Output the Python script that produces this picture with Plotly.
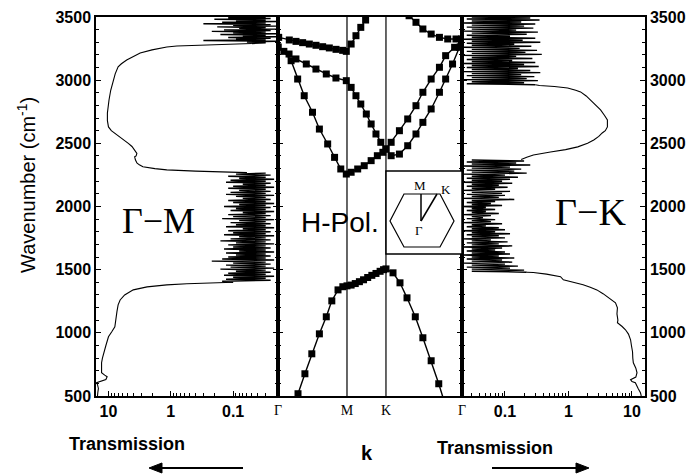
import plotly.graph_objects as go

# ---------------- data ----------------
# Gamma-M transmission (left panel)
gm_top_noise_wn = list(range(3500, 3286, -6))
gm_top_noise_t = [0.03, 0.12, 0.025, 0.2, 0.03, 0.09, 0.02, 0.15, 0.03, 0.3, 0.025, 0.1,
                  0.02, 0.18, 0.03, 0.08, 0.02, 0.14, 0.025, 0.22, 0.03, 0.1, 0.02, 0.16,
                  0.03, 0.07, 0.02, 0.12, 0.025, 0.09, 0.03, 0.3, 0.02, 0.06, 0.03, 0.05]
gm_upper_wn = [3290, 3280, 3270, 3263, 3240, 3215, 3190, 3160, 3130, 3105, 3050, 3000, 2920,
               2843, 2780, 2740, 2680, 2630, 2600, 2580, 2550, 2527, 2500, 2475, 2445, 2420,
               2400, 2393, 2370, 2345, 2330, 2315, 2300, 2290, 2280, 2275, 2268]
gm_upper_t = [0.05, 0.3, 0.8, 1.16, 2.0, 3.1, 4.0, 5.1, 6.2, 7.0, 7.8, 8.4, 9.2,
              9.8, 10.2, 10.4, 10.4, 10.0, 9.0, 7.9, 6.5, 5.5, 4.8, 4.2, 3.8, 3.5,
              3.6, 3.8, 3.7, 3.5, 3.2, 2.8, 1.8, 1.16, 0.4, 0.18, 0.06]
gm_mid_noise_wn = list(range(2264, 1399, -8))
gm_mid_noise_t = [0.03, 0.09, 0.025, 0.12, 0.03, 0.08, 0.022, 0.11, 0.03, 0.13,
                  0.025, 0.07, 0.03, 0.1, 0.022, 0.12, 0.03, 0.08, 0.025, 0.11,
                  0.03, 0.13, 0.022, 0.09, 0.03, 0.07, 0.025, 0.12, 0.03, 0.1,
                  0.022, 0.08, 0.03, 0.14, 0.025, 0.09, 0.03, 0.11, 0.022, 0.07,
                  0.03, 0.12, 0.025, 0.1, 0.03, 0.15, 0.022, 0.08, 0.03, 0.11,
                  0.025, 0.09, 0.03, 0.13, 0.022, 0.07, 0.03, 0.12, 0.025, 0.1,
                  0.03, 0.14, 0.022, 0.08, 0.03, 0.11, 0.025, 0.16, 0.03, 0.09,
                  0.022, 0.12, 0.03, 0.1, 0.025, 0.14, 0.03, 0.08, 0.022, 0.13,
                  0.03, 0.09, 0.025, 0.12, 0.03, 0.15, 0.022, 0.22, 0.03, 0.1,
                  0.025, 0.13, 0.03, 0.11, 0.022, 0.16, 0.03, 0.09, 0.025, 0.12,
                  0.03, 0.14, 0.022, 0.1, 0.03, 0.13, 0.025, 0.15, 0.1]
gm_lower_wn = [1400, 1396, 1388, 1380, 1364, 1340, 1300, 1260, 1222, 1170, 1127, 1080, 1048, 1010,
               969, 900, 842, 800, 763, 720, 684, 665, 652, 630, 613, 605, 590, 560, 530, 500]
gm_lower_t = [0.1, 0.3, 0.55, 1.16, 2.4, 4.0, 5.5, 6.5, 7.0, 7.3, 7.5, 7.6, 7.9, 8.8,
              10.0, 11.0, 12.0, 12.5, 12.9, 12.9, 12.9, 11.5, 10.5, 11.0, 13.7, 15.5, 15.0, 14.5, 14.8, 15.0]

# Gamma-K transmission (right panel)
gk_top_noise_wn = list(range(3500, 2959, -8))
gk_top_noise_t = [0.03, 0.25, 0.025, 0.35, 0.03, 0.18, 0.022, 0.3, 0.03, 0.2,
                  0.025, 0.28, 0.03, 0.15, 0.022, 0.33, 0.03, 0.22, 0.025, 0.12,
                  0.03, 0.3, 0.022, 0.19, 0.03, 0.36, 0.025, 0.14, 0.03, 0.26,
                  0.022, 0.17, 0.03, 0.32, 0.025, 0.21, 0.03, 0.38, 0.022, 0.15,
                  0.03, 0.27, 0.025, 0.13, 0.03, 0.3, 0.022, 0.2, 0.03, 0.34,
                  0.025, 0.16, 0.03, 0.25, 0.022, 0.36, 0.03, 0.18, 0.025, 0.29,
                  0.03, 0.22, 0.022, 0.33, 0.03, 0.2, 0.025, 0.3]
gk_upper_wn = [2964, 2958, 2950, 2938, 2920, 2907, 2875, 2843, 2800, 2764, 2720, 2685, 2630, 2600,
               2582, 2555, 2527, 2500, 2472, 2450, 2432, 2420, 2408, 2390, 2372]
gk_upper_t = [0.3, 0.35, 0.6, 0.97, 1.3, 1.55, 1.9, 2.2, 2.7, 3.2, 3.7, 4.1, 4.1, 3.8,
              3.4, 3.0, 2.5, 2.0, 1.4, 0.9, 0.52, 0.38, 0.28, 0.22, 0.18]
gk_mid_noise_wn = list(range(2368, 1479, -8))
gk_mid_noise_t = [0.03, 0.2, 0.025, 0.15, 0.03, 0.25, 0.022, 0.12, 0.03, 0.18,
                  0.025, 0.14, 0.03, 0.22, 0.022, 0.1, 0.03, 0.16, 0.025, 0.12,
                  0.03, 0.09, 0.022, 0.13, 0.03, 0.08, 0.025, 0.11, 0.03, 0.07,
                  0.022, 0.12, 0.03, 0.09, 0.025, 0.1, 0.03, 0.08, 0.022, 0.14,
                  0.03, 0.07, 0.025, 0.06, 0.03, 0.09, 0.022, 0.05, 0.03, 0.07,
                  0.025, 0.05, 0.03, 0.08, 0.022, 0.06, 0.03, 0.045, 0.025, 0.07,
                  0.03, 0.06, 0.022, 0.09, 0.03, 0.05, 0.025, 0.08, 0.03, 0.1,
                  0.022, 0.07, 0.03, 0.12, 0.025, 0.08, 0.03, 0.1, 0.022, 0.06,
                  0.03, 0.11, 0.025, 0.08, 0.03, 0.13, 0.022, 0.09, 0.03, 0.07,
                  0.025, 0.1, 0.03, 0.12, 0.022, 0.08, 0.03, 0.14, 0.025, 0.09,
                  0.03, 0.13, 0.022, 0.1, 0.03, 0.16, 0.025, 0.12, 0.03, 0.2,
                  0.03, 0.22]
gk_lower_wn = [1480, 1478, 1465, 1444, 1420, 1400, 1380, 1360, 1340, 1310, 1285, 1260, 1237, 1198,
               1150, 1100, 1080, 1050, 1024, 990, 945, 900, 850, 800, 763, 720, 684, 650,
               629, 615, 605, 560, 526, 500]
gk_lower_t = [0.22, 0.28, 0.45, 0.75, 0.83, 1.2, 1.7, 2.2, 2.8, 3.5, 4.1, 4.8, 5.5, 5.9,
              5.8, 6.0, 5.9, 7.0, 7.9, 8.8, 9.5, 9.8, 10.2, 10.3, 10.5, 11.5, 12.0, 11.5,
              9.5, 10.0, 11.3, 12.5, 13.6, 14.0]

# Band structure (H-polarisation), k path Gamma-M-K-Gamma
k_tick_vals = [0.0, 1.0, 1.565, 2.667]
k_tick_text = ["\u0393", "M", "K", "\u0393"]

band_a_k = [0.0, 0.29, 0.39, 0.49, 0.60, 0.70, 0.78, 0.87, 0.94, 1.0, 1.06, 1.12, 1.18, 1.24,
            1.30, 1.36, 1.42, 1.48, 1.53, 1.565, 1.667, 1.768, 1.87, 1.99, 2.10, 2.22, 2.33, 2.667]
band_a_wn = [0, 518, 676, 834, 992, 1127, 1253, 1340, 1365, 1372, 1378, 1390, 1405, 1420,
             1438, 1455, 1470, 1487, 1500, 1506, 1475, 1396, 1277, 1127, 961, 779, 597, 0]

band_b_k = [0.0, 0.085, 0.19, 0.285, 0.38, 0.50, 0.60, 0.72, 0.82, 0.91, 0.99, 1.06, 1.155, 1.25,
            1.35, 1.44, 1.52, 1.565, 1.64, 1.76, 1.88, 2.0, 2.10, 2.22, 2.34, 2.43, 2.53, 2.63, 2.66]
band_b_wn = [3262, 3228, 3154, 3009, 2877, 2746, 2613, 2495, 2389, 2297, 2257, 2271, 2297, 2323,
             2363, 2402, 2429, 2455, 2402, 2415, 2481, 2574, 2666, 2772, 2904, 3009, 3128, 3260, 3290]

band_c_k = [0.0, 0.16, 0.26, 0.41, 0.55, 0.70, 0.84, 0.99, 1.06, 1.13, 1.20, 1.28, 1.35, 1.42,
            1.49, 1.565, 1.64, 1.76, 1.88, 2.0, 2.10, 2.22, 2.34, 2.43, 2.56, 2.66]
band_c_wn = [3262, 3207, 3168, 3128, 3088, 3049, 3017, 2996, 2943, 2877, 2811, 2732, 2653, 2574,
             2508, 2455, 2508, 2600, 2693, 2798, 2904, 3009, 3102, 3194, 3260, 3313]

band_d_k = [0.01, 0.164, 0.261, 0.357, 0.454, 0.551, 0.647, 0.744, 0.841, 0.937, 0.99,
            1.06, 1.13, 1.20, 1.27, 1.34]
band_d_wn = [3339, 3318, 3307, 3297, 3286, 3276, 3265, 3255, 3244, 3236, 3228,
             3286, 3352, 3418, 3476, 3545]

band_e_k = [1.85, 1.90, 2.0, 2.10, 2.22, 2.34, 2.46, 2.58, 2.66]
band_e_wn = [3560, 3510, 3458, 3405, 3365, 3339, 3326, 3326, 3326]

# ---------------- figure ----------------
W, H = 695, 474


def px(x):
    return x / W


def py(y):
    return 1 - y / H


Y_DOM = [py(396), py(17)]
SMOOTH = dict(color="black", width=1.1)
NOISE = dict(color="black", width=1.4)

fig = go.Figure()

# left panel (Gamma-M)
for xs, ys, ln in [(gm_top_noise_t, gm_top_noise_wn, NOISE), (gm_upper_t, gm_upper_wn, SMOOTH),
                   (gm_mid_noise_t, gm_mid_noise_wn, NOISE), (gm_lower_t, gm_lower_wn, SMOOTH)]:
    fig.add_trace(go.Scatter(x=xs, y=ys, mode="lines", line=ln, xaxis="x", yaxis="y",
                             showlegend=False))
# right panel (Gamma-K)
for xs, ys, ln in [(gk_top_noise_t, gk_top_noise_wn, NOISE), (gk_upper_t, gk_upper_wn, SMOOTH),
                   (gk_mid_noise_t, gk_mid_noise_wn, NOISE), (gk_lower_t, gk_lower_wn, SMOOTH)]:
    fig.add_trace(go.Scatter(x=xs, y=ys, mode="lines", line=ln, xaxis="x3", yaxis="y3",
                             showlegend=False))
# bands
for bk, bw in [(band_a_k, band_a_wn), (band_b_k, band_b_wn), (band_c_k, band_c_wn),
               (band_d_k, band_d_wn), (band_e_k, band_e_wn)]:
    fig.add_trace(go.Scatter(x=bk, y=bw, mode="lines+markers", xaxis="x2", yaxis="y2",
                             line=dict(color="black", width=1.4),
                             marker=dict(symbol="square", size=7, color="black"),
                             showlegend=False))

tick_font = dict(family="Liberation Sans", size=16, color="black", weight="bold")
serif = "Liberation Serif"

yax_common = dict(range=[500, 3500], domain=Y_DOM, showline=True, linecolor="black",
                  linewidth=1.5, ticks="inside", ticklen=5, tickwidth=1.2, tickcolor="black",
                  dtick=500, tick0=500, mirror="allticks", showgrid=False, zeroline=False,
                  automargin=False,
                  minor=dict(ticks="inside", ticklen=3, dtick=100, tickcolor="black", showgrid=False),
                  tickfont=tick_font)
xlog_common = dict(type="log", showline=True, linecolor="black", linewidth=1.5, mirror=True,
                   ticks="inside", ticklen=5, tickwidth=1.2, tickcolor="black",
                   tickvals=[0.1, 1, 10], ticktext=["0.1", "1", "10"], automargin=False,
                   minor=dict(ticks="inside", ticklen=3, dtick="D1", tickcolor="black", showgrid=False),
                   showgrid=False, zeroline=False, tickfont=tick_font)

fig.update_layout(
    width=W, height=H, margin=dict(l=0, r=0, t=0, b=0, autoexpand=False),
    paper_bgcolor="white", plot_bgcolor="white",
    xaxis=dict(domain=[px(96), px(278)], range=[1.20, -1.72], anchor="y", **xlog_common),
    yaxis=dict(anchor="x", side="left", showticklabels=True, **yax_common),
    xaxis2=dict(domain=[px(278), px(462)], range=[0, 2.667], anchor="y2", showline=True,
                linecolor="black", linewidth=1.5, mirror=True, ticks="", automargin=False,
                tickvals=k_tick_vals, ticktext=k_tick_text, showgrid=False, zeroline=False,
                tickfont=dict(family=serif, size=14, color="black")),
    yaxis2=dict(anchor="x2", showticklabels=False, **yax_common),
    xaxis3=dict(domain=[px(462), px(645)], range=[-1.677, 1.205], anchor="y3", **xlog_common),
    yaxis3=dict(anchor="x3", side="right", showticklabels=True, **yax_common),
)

shapes = []
# M and K vertical lines
for kv in (k_tick_vals[1], k_tick_vals[2]):
    shapes.append(dict(type="line", xref="x2", yref="y2 domain", x0=kv, x1=kv, y0=0, y1=1,
                       line=dict(color="black", width=1.2)))
# inset box (Brillouin zone)
shapes.append(dict(type="rect", xref="paper", yref="paper", x0=px(386), x1=px(462),
                   y0=py(254), y1=py(171), line=dict(color="black", width=1.5),
                   fillcolor="white", layer="above"))
hexpts = [(404, 194), (440, 194), (454, 221), (440, 247), (404, 247), (390, 221)]
path = "M " + " L ".join(f"{px(a):.5f},{py(b):.5f}" for a, b in hexpts) + " Z"
shapes.append(dict(type="path", xref="paper", yref="paper", path=path,
                   line=dict(color="black", width=1.2), layer="above"))
shapes.append(dict(type="line", xref="paper", yref="paper", x0=px(421), x1=px(421),
                   y0=py(221), y1=py(194), line=dict(color="black", width=1.5), layer="above"))
shapes.append(dict(type="line", xref="paper", yref="paper", x0=px(421), x1=px(437),
                   y0=py(221), y1=py(194), line=dict(color="black", width=1.5), layer="above"))
# arrows below the transmission labels (shaft + filled head)
for x_tail, x_tip in [(243, 160), (492, 578)]:
    shapes.append(dict(type="line", xref="paper", yref="paper", x0=px(x_tail), x1=px(x_tip),
                       y0=py(468), y1=py(468), line=dict(color="black", width=2)))
    d = 1 if x_tip > x_tail else -1
    head = [(x_tip - d * 2, 463), (x_tip + d * 11, 468), (x_tip - d * 2, 473)]
    hp = "M " + " L ".join(f"{px(a):.5f},{py(b):.5f}" for a, b in head) + " Z"
    shapes.append(dict(type="path", xref="paper", yref="paper", path=hp,
                       fillcolor="black", line=dict(color="black", width=1)))
fig.update_layout(shapes=shapes)

ann = []


def text(x, y, s, size, family="Liberation Sans", weight="normal", angle=0):
    ann.append(dict(xref="paper", yref="paper", x=px(x), y=py(y), text=s, showarrow=False,
                    xanchor="center", yanchor="middle", textangle=angle,
                    font=dict(family=family, size=size, color="black", weight=weight)))


text(158, 221, "\u0393\u2212M", 36, family=serif)
text(340, 222, "H-Pol.", 28)
text(590, 212, "\u0393\u2212K", 38, family=serif)
text(26, 185, "Wavenumber (cm<sup>-1</sup>)", 20, angle=-90)
text(127, 444, "Transmission", 18, weight="bold")
text(367, 453, "k", 20, weight="bold")
text(495, 448, "Transmission", 18, weight="bold")
text(420, 185, "M", 13, family=serif)
text(446, 189, "K", 13, family=serif)
text(419, 231, "\u0393", 13, family=serif)
fig.update_layout(annotations=ann)

fig.write_html("out.html", config={"displayModeBar": False},
               post_script="document.body.style.margin='0';document.body.style.overflow='hidden';")
